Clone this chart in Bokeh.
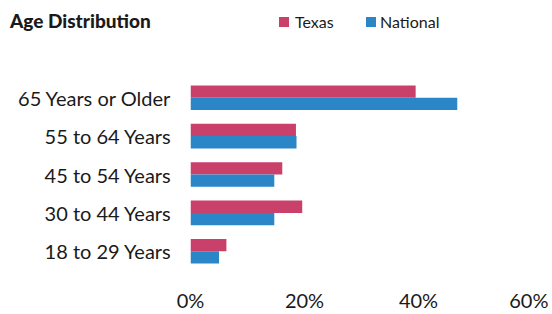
from bokeh.plotting import figure
from bokeh.layouts import column
from bokeh.models import FactorRange, Range1d, FixedTicker, ColumnDataSource, Div
from bokeh.transform import dodge
from bokeh.embed import file_html
from bokeh.resources import INLINE

categories = ["18 to 29 Years", "30 to 44 Years", "45 to 54 Years", "55 to 64 Years", "65 Years or Older"]
texas = [6.3, 19.6, 16.1, 18.5, 39.5]
national = [5.0, 14.7, 14.7, 18.6, 46.8]
tick_values = [0, 20, 40, 60]
tick_labels = ["0%", "20%", "40%", "60%"]
series_names = ["Texas", "National"]
title_text = "Age Distribution"

TEXAS_COLOR = "#c9416b"
NATIONAL_COLOR = "#2b86c8"
FONT = "Lato"
TEXT_COLOR = "#1a1a1a"

W = 548
HEADER_H = 44
MAIN_H = 270

# ---- header: title + legend (HTML) ----
legend_x = [279, 366]
legend_text_x = [295, 380]
parts = [
    f'<div style="position:relative;width:{W}px;height:{HEADER_H}px;margin:0;padding:0;'
    f'font-family:{FONT};color:{TEXT_COLOR};">',
    f'<span style="position:absolute;left:10px;top:9px;font-size:19px;font-weight:900;'
    f'line-height:23px;white-space:nowrap;">{title_text}</span>',
]
for name, color, sx, tx in zip(series_names, [TEXAS_COLOR, NATIONAL_COLOR], legend_x, legend_text_x):
    parts.append(f'<span style="position:absolute;left:{sx}px;top:17px;width:10px;height:10px;'
                 f'background:{color};"></span>')
    parts.append(f'<span style="position:absolute;left:{tx}px;top:12px;font-size:16px;'
                 f'line-height:20px;white-space:nowrap;">{name}</span>')
parts.append('</div>')
header = Div(text="".join(parts), width=W, height=HEADER_H, margin=(0, 0, 0, 0))

# ---- main bar chart ----
src = ColumnDataSource(dict(cat=categories, texas=texas, national=national))
p = figure(width=W, height=MAIN_H, output_backend="svg", toolbar_location=None,
           y_range=FactorRange(factors=categories, range_padding=0),
           x_range=Range1d(0, 60),
           min_border_left=190, min_border_right=16, min_border_top=34, min_border_bottom=41,
           margin=(0, 0, 0, 0))
p.outline_line_color = None
p.grid.grid_line_color = None

p.hbar(y=dodge("cat", 0.16, range=p.y_range), right="texas", left=0, height=0.32,
       source=src, color=TEXAS_COLOR, line_color=None)
p.hbar(y=dodge("cat", -0.16, range=p.y_range), right="national", left=0, height=0.32,
       source=src, color=NATIONAL_COLOR, line_color=None)

p.xaxis.ticker = FixedTicker(ticks=tick_values)
p.xaxis.major_label_overrides = {v: l for v, l in zip(tick_values, tick_labels)}
for ax in (p.xaxis, p.yaxis):
    ax.axis_line_color = None
    ax.major_tick_line_color = None
    ax.minor_tick_line_color = None
    ax.major_tick_out = 0
    ax.major_tick_in = 0
    ax.minor_tick_out = 0
    ax.major_label_text_font = FONT
    ax.major_label_text_font_size = "20px"
    ax.major_label_text_color = TEXT_COLOR
p.xaxis.major_label_standoff = 17
p.yaxis.major_label_standoff = 19

layout = column(header, p, spacing=0)
open("out.html", "w").write(file_html(layout, INLINE))
